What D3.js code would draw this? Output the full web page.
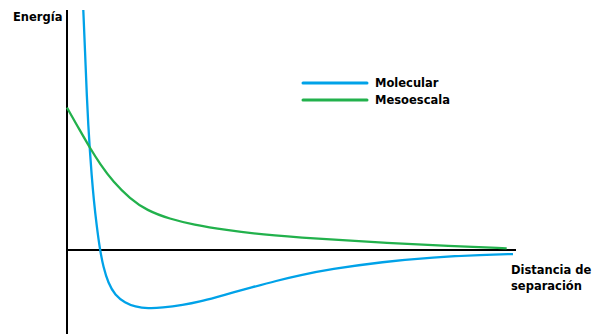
<!DOCTYPE html>
<html><head><meta charset="utf-8">
<script src="https://cdn.jsdelivr.net/npm/d3@7"></script>
<style>html,body{margin:0;padding:0;background:#fff;}svg{display:block;}</style>
</head><body>
<script>
const seriesNames = ["Molecular", "Mesoescala"];
const seriesColors = ["#00a2e8", "#22b14c"];
const molecularDist = [0.363,0.401,0.445,0.474,0.508,0.548,0.597,0.659,0.735,0.808,0.920,1.069,1.292,1.514,1.811,2.109,2.590,2.962,3.334,3.704,4.076,4.670,5.189,5.857,7.038,8.151,9.265,9.933];
const molecularEnergy = [10,8.33,6.25,5.21,4.17,3.13,2.08,1.04,0,-0.70,-1.39,-1.88,-2.20,-2.36,-2.44,-2.41,-2.29,-2.15,-1.96,-1.77,-1.58,-1.28,-1.05,-0.80,-0.49,-0.30,-0.20,-0.17];
const mesoDist = [0,0.290,0.512,0.735,1.031,1.403,1.775,2.294,2.806,3.557,4.298,5.561,7.038,8.530,9.793];
const mesoEnergy = [5.93,4.975,4.25,3.58,2.83,2.14,1.65,1.29,1.06,0.83,0.65,0.47,0.30,0.17,0.07];
const yLabel = "Energía";
const xLabelLines = ["Distancia de", "separación"];

const W = 592, H = 334;
const svg = d3.select("body").append("svg").attr("width", W).attr("height", H);
const x = d3.scaleLinear().domain([0, 10]).range([67, 516]);
const y = d3.scaleLinear().domain([-3.5, 10]).range([334, 10]);

const font = "'DejaVu Sans', Verdana, sans-serif";

// axes
svg.append("line").attr("x1", x(0)).attr("x2", x(0)).attr("y1", y(10)).attr("y2", y(-3.5))
  .attr("stroke", "#000").attr("stroke-width", 2);
svg.append("line").attr("x1", x(0)).attr("x2", x(10)).attr("y1", y(0)).attr("y2", y(0))
  .attr("stroke", "#000").attr("stroke-width", 2);

const line = d3.line().x(d => x(d[0])).y(d => y(d[1])).curve(d3.curveBasis);
const data = [
  d3.zip(molecularDist, molecularEnergy),
  d3.zip(mesoDist, mesoEnergy)
];
data.forEach((pts, i) => {
  svg.append("path").attr("d", line(pts)).attr("fill", "none")
    .attr("stroke", seriesColors[i]).attr("stroke-width", 2.3);
});

// legend
seriesNames.forEach((n, i) => {
  const ly = 83 + i * 17;
  svg.append("line").attr("x1", 303).attr("x2", 367).attr("y1", ly).attr("y2", ly)
    .attr("stroke", seriesColors[i]).attr("stroke-width", 3).attr("stroke-linecap", "round");
  svg.append("text").attr("x", 375).attr("y", ly + 4).text(n)
    .attr("font-family", font).attr("font-weight", "bold").attr("font-size", 11.5).attr("fill", "#000");
});

// labels
svg.append("text").attr("x", 13).attr("y", 21).text(yLabel)
  .attr("font-family", font).attr("font-weight", "bold").attr("font-size", 11.5).attr("fill", "#000");
xLabelLines.forEach((t, i) => {
  svg.append("text").attr("x", 511).attr("y", 274 + i * 16).text(t)
    .attr("font-family", font).attr("font-weight", "bold").attr("font-size", 11.5).attr("fill", "#000");
});
</script>
</body></html>
